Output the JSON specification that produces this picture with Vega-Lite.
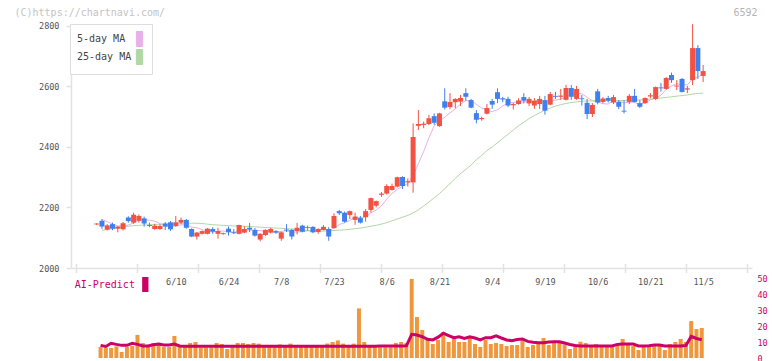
{
"$schema":"https://vega.github.io/schema/vega-lite/v6.json",
"width":681,"height":244,"autosize":"none",
"padding":{"left":71,"top":24,"right":20,"bottom":93},
"background":"#ffffff",
"config":{"view":{"stroke":null},"font":"DejaVu Sans Mono"},
"data":{"values":[
{"i":0,"o":2144,"h":2148,"l":2142,"c":2147,"v":null,"vm":null,"m5":null,"m25":null},
{"i":1,"o":2156,"h":2162,"l":2129,"c":2137,"v":6.9,"vm":7.9,"m5":2160,"m25":2125},
{"i":2,"o":2127,"h":2145,"l":2124,"c":2141,"v":6.5,"vm":7.2,"m5":2153,"m25":2127},
{"i":3,"o":2145,"h":2150,"l":2125,"c":2130,"v":6.25,"vm":9.2,"m5":2145,"m25":2130},
{"i":4,"o":2130,"h":2138,"l":2118,"c":2137,"v":7.3,"vm":8.5,"m5":2139,"m25":2133},
{"i":5,"o":2128,"h":2152,"l":2124,"c":2148,"v":3.75,"vm":7.9,"m5":2139,"m25":2135},
{"i":6,"o":2167,"h":2171,"l":2150,"c":2155,"v":7.1,"vm":7.9,"m5":2142,"m25":2138},
{"i":7,"o":2150,"h":2183,"l":2146,"c":2176,"v":7.5,"vm":9.2,"m5":2149,"m25":2140},
{"i":8,"o":2156,"h":2177,"l":2150,"c":2172,"v":14.4,"vm":8.5,"m5":2158,"m25":2141},
{"i":9,"o":2164,"h":2170,"l":2137,"c":2147,"v":9.4,"vm":7.5,"m5":2160,"m25":2142},
{"i":10,"o":2142,"h":2150,"l":2135,"c":2139,"v":6.9,"vm":7.5,"m5":2158,"m25":2143},
{"i":11,"o":2129,"h":2146,"l":2126,"c":2140,"v":9.4,"vm":8.3,"m5":2155,"m25":2144},
{"i":12,"o":2129,"h":2145,"l":2126,"c":2139,"v":9.4,"vm":8.7,"m5":2147,"m25":2145},
{"i":13,"o":2147,"h":2152,"l":2126,"c":2137,"v":6.9,"vm":8.1,"m5":2140,"m25":2145},
{"i":14,"o":2151,"h":2155,"l":2123,"c":2128,"v":6.9,"vm":8.1,"m5":2137,"m25":2146},
{"i":15,"o":2139,"h":2172,"l":2136,"c":2151,"v":13.75,"vm":8.7,"m5":2139,"m25":2147},
{"i":16,"o":2150,"h":2167,"l":2145,"c":2159,"v":6.9,"vm":7.5,"m5":2143,"m25":2148},
{"i":17,"o":2159,"h":2162,"l":2130,"c":2133,"v":6.9,"vm":7.3,"m5":2142,"m25":2148},
{"i":18,"o":2129,"h":2131,"l":2102,"c":2104,"v":9.4,"vm":7.3,"m5":2135,"m25":2148},
{"i":19,"o":2104,"h":2119,"l":2094,"c":2117,"v":10,"vm":7.3,"m5":2133,"m25":2148},
{"i":20,"o":2113,"h":2124,"l":2111,"c":2122,"v":6.5,"vm":7.3,"m5":2127,"m25":2147},
{"i":21,"o":2113,"h":2132,"l":2111,"c":2130,"v":6.5,"vm":7.3,"m5":2121,"m25":2145},
{"i":22,"o":2129,"h":2135,"l":2113,"c":2120,"v":6.5,"vm":7.3,"m5":2119,"m25":2143},
{"i":23,"o":2113,"h":2133,"l":2097,"c":2122,"v":9.4,"vm":7.3,"m5":2122,"m25":2142},
{"i":24,"o":2112,"h":2117,"l":2110,"c":2115,"v":8.75,"vm":7.3,"m5":2122,"m25":2141},
{"i":25,"o":2130,"h":2137,"l":2107,"c":2118,"v":5.6,"vm":7.3,"m5":2121,"m25":2140},
{"i":26,"o":2118,"h":2129,"l":2112,"c":2115,"v":6.9,"vm":7.3,"m5":2118,"m25":2139},
{"i":27,"o":2113,"h":2143,"l":2111,"c":2142,"v":9.4,"vm":7.3,"m5":2122,"m25":2139},
{"i":28,"o":2117,"h":2138,"l":2115,"c":2129,"v":9.4,"vm":7.3,"m5":2124,"m25":2138},
{"i":29,"o":2133,"h":2149,"l":2119,"c":2127,"v":8.75,"vm":7.3,"m5":2126,"m25":2137},
{"i":30,"o":2126,"h":2132,"l":2104,"c":2107,"v":9.4,"vm":7.3,"m5":2124,"m25":2136},
{"i":31,"o":2094,"h":2115,"l":2088,"c":2113,"v":9,"vm":7.3,"m5":2124,"m25":2135},
{"i":32,"o":2109,"h":2128,"l":2106,"c":2126,"v":7.5,"vm":7.3,"m5":2120,"m25":2134},
{"i":33,"o":2117,"h":2133,"l":2114,"c":2129,"v":8,"vm":7.3,"m5":2120,"m25":2133},
{"i":34,"o":2122,"h":2125,"l":2113,"c":2117,"v":7,"vm":7.3,"m5":2118,"m25":2132},
{"i":35,"o":2097,"h":2120,"l":2090,"c":2118,"v":8.5,"vm":7.3,"m5":2121,"m25":2131},
{"i":36,"o":2127,"h":2145,"l":2119,"c":2124,"v":7,"vm":7.3,"m5":2123,"m25":2130},
{"i":37,"o":2126,"h":2129,"l":2094,"c":2104,"v":9,"vm":7.3,"m5":2119,"m25":2129},
{"i":38,"o":2122,"h":2149,"l":2111,"c":2133,"v":7.5,"vm":7.3,"m5":2119,"m25":2127},
{"i":39,"o":2140,"h":2143,"l":2118,"c":2120,"v":8,"vm":7.3,"m5":2120,"m25":2125},
{"i":40,"o":2132,"h":2141,"l":2123,"c":2135,"v":7,"vm":7.3,"m5":2123,"m25":2124},
{"i":41,"o":2136,"h":2138,"l":2115,"c":2118,"v":7.5,"vm":7.3,"m5":2122,"m25":2123},
{"i":42,"o":2119,"h":2131,"l":2113,"c":2129,"v":8,"vm":7.3,"m5":2127,"m25":2122},
{"i":43,"o":2126,"h":2142,"l":2124,"c":2136,"v":7,"vm":7.3,"m5":2127,"m25":2122},
{"i":44,"o":2129,"h":2135,"l":2090,"c":2104,"v":9,"vm":7.3,"m5":2124,"m25":2123},
{"i":45,"o":2132,"h":2181,"l":2130,"c":2172,"v":10,"vm":7.4,"m5":2132,"m25":2124},
{"i":46,"o":2188,"h":2192,"l":2175,"c":2181,"v":11,"vm":7.4,"m5":2144,"m25":2125},
{"i":47,"o":2183,"h":2186,"l":2150,"c":2153,"v":9,"vm":7.4,"m5":2149,"m25":2126},
{"i":48,"o":2175,"h":2190,"l":2162,"c":2188,"v":8,"vm":7.4,"m5":2158,"m25":2128},
{"i":49,"o":2159,"h":2183,"l":2143,"c":2170,"v":9,"vm":7.4,"m5":2168,"m25":2130},
{"i":50,"o":2165,"h":2172,"l":2147,"c":2150,"v":31,"vm":7.4,"m5":2166,"m25":2132},
{"i":51,"o":2168,"h":2195,"l":2153,"c":2188,"v":10,"vm":7.4,"m5":2168,"m25":2135},
{"i":52,"o":2192,"h":2233,"l":2183,"c":2231,"v":8,"vm":7.4,"m5":2182,"m25":2138},
{"i":53,"o":2206,"h":2223,"l":2200,"c":2221,"v":7,"vm":7.4,"m5":2192,"m25":2141},
{"i":54,"o":2242,"h":2251,"l":2235,"c":2246,"v":6.7,"vm":7.5,"m5":2205,"m25":2145},
{"i":55,"o":2246,"h":2277,"l":2243,"c":2271,"v":6.7,"vm":7.5,"m5":2228,"m25":2150},
{"i":56,"o":2258,"h":2279,"l":2256,"c":2271,"v":6.7,"vm":7.5,"m5":2246,"m25":2156},
{"i":57,"o":2269,"h":2302,"l":2266,"c":2300,"v":9.4,"vm":7.5,"m5":2260,"m25":2162},
{"i":58,"o":2301,"h":2303,"l":2261,"c":2271,"v":10,"vm":7.5,"m5":2270,"m25":2168},
{"i":59,"o":2283,"h":2296,"l":2269,"c":2287,"v":9.4,"vm":7.6,"m5":2279,"m25":2174},
{"i":60,"o":2283,"h":2478,"l":2249,"c":2433,"v":49.4,"vm":14.8,"m5":2305,"m25":2182},
{"i":61,"o":2470,"h":2522,"l":2456,"c":2476,"v":25.6,"vm":14.4,"m5":2345,"m25":2192},
{"i":62,"o":2473,"h":2484,"l":2462,"c":2477,"v":17.5,"vm":13.3,"m5":2385,"m25":2205},
{"i":63,"o":2476,"h":2506,"l":2472,"c":2495,"v":12.5,"vm":11.7,"m5":2430,"m25":2218},
{"i":64,"o":2502,"h":2511,"l":2473,"c":2480,"v":8.75,"vm":11.3,"m5":2470,"m25":2232},
{"i":65,"o":2469,"h":2513,"l":2467,"c":2511,"v":11.25,"vm":13.0,"m5":2487,"m25":2246},
{"i":66,"o":2551,"h":2594,"l":2524,"c":2530,"v":16.25,"vm":15.5,"m5":2498,"m25":2262},
{"i":67,"o":2532,"h":2578,"l":2526,"c":2549,"v":10,"vm":14.0,"m5":2513,"m25":2279},
{"i":68,"o":2548,"h":2561,"l":2528,"c":2559,"v":12.5,"vm":12.7,"m5":2526,"m25":2296},
{"i":69,"o":2550,"h":2572,"l":2535,"c":2562,"v":10,"vm":13.3,"m5":2542,"m25":2312},
{"i":70,"o":2578,"h":2594,"l":2553,"c":2566,"v":10,"vm":12.3,"m5":2553,"m25":2326},
{"i":71,"o":2555,"h":2559,"l":2528,"c":2530,"v":12.5,"vm":13.3,"m5":2553,"m25":2340},
{"i":72,"o":2512,"h":2522,"l":2478,"c":2490,"v":8.75,"vm":12.5,"m5":2541,"m25":2358},
{"i":73,"o":2492,"h":2500,"l":2487,"c":2496,"v":6.9,"vm":11.3,"m5":2529,"m25":2372},
{"i":74,"o":2510,"h":2542,"l":2508,"c":2529,"v":11.25,"vm":12.7,"m5":2522,"m25":2388},
{"i":75,"o":2552,"h":2559,"l":2526,"c":2540,"v":8.75,"vm":12.7,"m5":2517,"m25":2400},
{"i":76,"o":2581,"h":2594,"l":2545,"c":2559,"v":9.4,"vm":13.8,"m5":2523,"m25":2414},
{"i":77,"o":2561,"h":2566,"l":2548,"c":2557,"v":8.75,"vm":12.5,"m5":2536,"m25":2428},
{"i":78,"o":2559,"h":2566,"l":2532,"c":2537,"v":7.5,"vm":11.3,"m5":2545,"m25":2442},
{"i":79,"o":2538,"h":2546,"l":2524,"c":2542,"v":8.1,"vm":10.8,"m5":2547,"m25":2456},
{"i":80,"o":2542,"h":2561,"l":2540,"c":2554,"v":8.1,"vm":11.5,"m5":2550,"m25":2470},
{"i":81,"o":2565,"h":2578,"l":2544,"c":2553,"v":10.8,"vm":11.9,"m5":2549,"m25":2482},
{"i":82,"o":2544,"h":2565,"l":2535,"c":2559,"v":6.9,"vm":10.4,"m5":2549,"m25":2494},
{"i":83,"o":2537,"h":2562,"l":2526,"c":2553,"v":8.1,"vm":9.8,"m5":2552,"m25":2504},
{"i":84,"o":2542,"h":2569,"l":2526,"c":2559,"v":9.4,"vm":9.6,"m5":2556,"m25":2513},
{"i":85,"o":2555,"h":2569,"l":2507,"c":2520,"v":12.5,"vm":9.6,"m5":2549,"m25":2522},
{"i":86,"o":2540,"h":2582,"l":2538,"c":2575,"v":8.1,"vm":10.0,"m5":2553,"m25":2529},
{"i":87,"o":2569,"h":2582,"l":2559,"c":2566,"v":9.4,"vm":10.2,"m5":2555,"m25":2535},
{"i":88,"o":2566,"h":2592,"l":2556,"c":2570,"v":10.7,"vm":10.2,"m5":2558,"m25":2540},
{"i":89,"o":2556,"h":2605,"l":2554,"c":2595,"v":8.5,"vm":9.4,"m5":2565,"m25":2544},
{"i":90,"o":2595,"h":2605,"l":2556,"c":2566,"v":5.6,"vm":8.4,"m5":2574,"m25":2547},
{"i":91,"o":2559,"h":2602,"l":2556,"c":2592,"v":7.2,"vm":7.8,"m5":2578,"m25":2549},
{"i":92,"o":2561,"h":2572,"l":2537,"c":2558,"v":10.2,"vm":7.5,"m5":2576,"m25":2551},
{"i":93,"o":2546,"h":2559,"l":2492,"c":2509,"v":9.4,"vm":7.5,"m5":2564,"m25":2552},
{"i":94,"o":2509,"h":2545,"l":2499,"c":2539,"v":7.9,"vm":7.5,"m5":2553,"m25":2553},
{"i":95,"o":2584,"h":2592,"l":2541,"c":2547,"v":8.75,"vm":7.5,"m5":2549,"m25":2553},
{"i":96,"o":2549,"h":2565,"l":2544,"c":2560,"v":7.5,"vm":7.5,"m5":2543,"m25":2553},
{"i":97,"o":2562,"h":2569,"l":2547,"c":2553,"v":7.5,"vm":7.5,"m5":2542,"m25":2553},
{"i":98,"o":2547,"h":2572,"l":2542,"c":2565,"v":7.5,"vm":7.5,"m5":2553,"m25":2553},
{"i":99,"o":2549,"h":2555,"l":2525,"c":2533,"v":7.5,"vm":8.5,"m5":2552,"m25":2553},
{"i":100,"o":2520,"h":2555,"l":2511,"c":2517,"v":11.9,"vm":8.75,"m5":2546,"m25":2554},
{"i":101,"o":2549,"h":2575,"l":2542,"c":2569,"v":8.75,"vm":8.75,"m5":2548,"m25":2554},
{"i":102,"o":2569,"h":2592,"l":2547,"c":2549,"v":7.5,"vm":8.75,"m5":2547,"m25":2555},
{"i":103,"o":2545,"h":2555,"l":2529,"c":2533,"v":5,"vm":7.5,"m5":2540,"m25":2556},
{"i":104,"o":2545,"h":2564,"l":2543,"c":2562,"v":6.9,"vm":7.5,"m5":2546,"m25":2557},
{"i":105,"o":2567,"h":2578,"l":2561,"c":2571,"v":7.5,"vm":7.7,"m5":2556,"m25":2558},
{"i":106,"o":2559,"h":2600,"l":2555,"c":2598,"v":8.75,"vm":8.1,"m5":2562,"m25":2560},
{"i":107,"o":2597,"h":2612,"l":2583,"c":2594,"v":8.75,"vm":8.1,"m5":2571,"m25":2562},
{"i":108,"o":2592,"h":2631,"l":2589,"c":2628,"v":5,"vm":7.5,"m5":2590,"m25":2564},
{"i":109,"o":2638,"h":2646,"l":2612,"c":2621,"v":8.75,"vm":7.5,"m5":2602,"m25":2566},
{"i":110,"o":2600,"h":2621,"l":2588,"c":2603,"v":10,"vm":7.5,"m5":2609,"m25":2568},
{"i":111,"o":2625,"h":2628,"l":2580,"c":2582,"v":11.9,"vm":7.5,"m5":2606,"m25":2570},
{"i":112,"o":2590,"h":2602,"l":2578,"c":2594,"v":10,"vm":7.8,"m5":2605,"m25":2572},
{"i":113,"o":2621,"h":2806,"l":2605,"c":2727,"v":23.1,"vm":13.5,"m5":2625,"m25":2575},
{"i":114,"o":2727,"h":2737,"l":2625,"c":2651,"v":18.1,"vm":12.2,"m5":2631,"m25":2577},
{"i":115,"o":2635,"h":2671,"l":2615,"c":2651,"v":18.75,"vm":11.4,"m5":2641,"m25":2578}
]},
"resolve":{"scale":{"y":"independent"},"axis":{"x":"independent","y":"independent"}},
"layer":[
{"transform":[{"fold":["m5","m25"],"as":["k","val"]}],
 "mark":{"type":"line","strokeWidth":1,"interpolate":"linear"},
 "encoding":{
  "x":{"field":"i","type":"quantitative","scale":{"domain":[-3.924,123.318],"nice":false,"zero":false},"axis":null},
  "y":{"field":"val","type":"quantitative","scale":{"domain":[2000,2806.6],"nice":false,"zero":false},"axis":null},
  "color":{"field":"k","type":"nominal","scale":{"domain":["m5","m25"],"range":["#e8b0e8","#b0d8a4"]},
   "legend":{"orient":"none","legendX":-1,"legendY":0,"title":null,"padding":7,"strokeColor":"#dddddd","fillColor":"#ffffff","rowPadding":-3,
    "labelFont":"DejaVu Sans Mono","labelFontSize":10,"labelColor":"#444444","labelOffset":-16,"symbolOffset":0,
    "labelExpr":"datum.value == 'm5' ? '\u00a05-day MA' : '25-day MA'",
    "symbolType":"M-0.42,-1H0.42V1H-0.42Z","symbolSize":225,"symbolStrokeColor":"#555555","symbolStrokeWidth":1,
    "encode":{"symbols":{"update":{"x":{"value":62.5},"fill":{"scale":"color","field":"value"},"stroke":{"value":"#555555"},"strokeWidth":{"value":1},"opacity":{"value":1}}}}},
   "sort":["m5","m25"]},
  "detail":{"field":"k"}
 }},
{"mark":{"type":"rule","strokeWidth":1},
 "encoding":{
  "x":{"field":"i","type":"quantitative","scale":{"domain":[-3.924,123.318],"nice":false,"zero":false},
   "axis":{"orient":"bottom","values":[15,25,35,45,55,65,75,85,95,105,115],
    "labelExpr":"['6/10','6/24','7/8','7/23','8/6','8/21','9/4','9/19','10/6','10/21','11/5'][round((datum.value-15)/10)]",
    "title":null,"grid":false,"domain":true,"domainColor":"#e2e2e2","domainWidth":1.5,"ticks":false,"labelPadding":9,
    "labelFont":"DejaVu Sans Mono","labelFontSize":8.5,"labelColor":"#555555","labelFlush":false,"labelOverlap":false}},
  "y":{"field":"l","type":"quantitative","scale":{"domain":[2000,2806.6],"nice":false,"zero":false},
   "axis":{"orient":"left","values":[2000,2200,2400,2600,2800],"format":"d","title":null,"grid":false,"domain":true,"domainColor":"#e2e2e2","domainWidth":1.5,
    "ticks":true,"tickColor":"#e2e2e2","tickSize":5,"tickWidth":1.5,"labelPadding":7,"labelFont":"DejaVu Sans Mono","labelFontSize":8.5,"labelColor":"#555555"}},
  "y2":{"field":"h"},
  "color":{"condition":{"test":"datum.c >= datum.o","value":"#f25241"},"value":"#3f7fee"}
 }},
{"mark":{"type":"bar","size":5},
 "encoding":{
  "x":{"field":"i","type":"quantitative","scale":{"domain":[-3.924,123.318],"nice":false,"zero":false},
   "axis":{"orient":"bottom","values":[-3.924,7.644,19.211,30.779,42.346,53.914,65.481,77.049,88.616,100.184,111.751,123.318],
    "labels":false,"domain":false,"ticks":true,"tickSize":9,"tickColor":"#e2e2e2","tickWidth":1.5,"offset":-4.5,"title":null,"grid":false}},
  "y":{"field":"o","type":"quantitative","scale":{"domain":[2000,2806.6],"nice":false,"zero":false},"axis":null},
  "y2":{"field":"c"},
  "color":{"condition":{"test":"datum.c >= datum.o","value":"#f25241"},"value":"#3f7fee"}
 }},
{"mark":{"type":"bar","size":4,"xOffset":-1.4,"color":"#f0973c"},
 "encoding":{
  "x":{"field":"i","type":"quantitative","scale":{"domain":[-3.924,123.318],"nice":false,"zero":false},
   "axis":{"orient":"top","labels":false,"ticks":false,"domain":false,"grid":false,"title":"(C)https://chartnavi.com/",
    "titleX":-57,"titleY":-12,"titleAlign":"left","titleAnchor":"start","titleBaseline":"middle","titleFont":"DejaVu Sans Mono","titleFontSize":10,"titleFontWeight":"normal","titleColor":"#c4c4c4"}},
  "y":{"field":"v","type":"quantitative","scale":{"domain":[0,50],"range":[334,254],"nice":false,"zero":false},
   "axis":{"orient":"right","values":[0,10,20,30,40,50],"format":"d","title":null,"grid":false,"domain":false,"ticks":false,"labelPadding":5,
    "labelFont":"DejaVu Sans Mono","labelFontSize":8.5,"labelColor":"#cc0066"}},
  "y2":{"datum":0}
 }},
{"mark":{"type":"line","strokeWidth":3,"xOffset":-1.4},
 "encoding":{
  "x":{"field":"i","type":"quantitative","scale":{"domain":[-3.924,123.318],"nice":false,"zero":false},
   "axis":{"orient":"top","labels":false,"ticks":false,"domain":false,"grid":false,"title":"6592",
    "titleX":686,"titleY":-12,"titleAlign":"right","titleAnchor":"end","titleBaseline":"middle","titleFont":"DejaVu Sans Mono","titleFontSize":10,"titleFontWeight":"normal","titleColor":"#b4b4b4"}},
  "y":{"field":"vm","type":"quantitative","scale":{"domain":[0,50],"range":[334,254],"nice":false,"zero":false},"axis":null},
  "stroke":{"datum":"AI-Predict","scale":{"range":["#cc0066"]},
   "legend":{"orient":"none","legendX":4.7,"legendY":253,"title":null,"padding":0,"labelFont":"DejaVu Sans Mono","labelFontSize":10,"labelColor":"#cc0066",
    "labelOffset":-16,"symbolOffset":0,"symbolType":"M-0.42,-1H0.42V1H-0.42Z","symbolSize":225,"symbolStrokeWidth":0,
    "encode":{"symbols":{"update":{"x":{"value":69.6},"fill":{"value":"#cc0066"},"stroke":{"value":"#cc0066"},"strokeWidth":{"value":0},"opacity":{"value":1}}}}}}
 }}
]
}
